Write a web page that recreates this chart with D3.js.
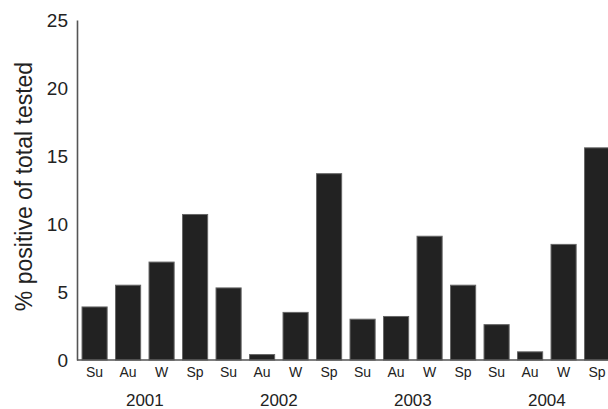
<!DOCTYPE html>
<html>
<head>
<meta charset="utf-8">
<script src="https://cdn.jsdelivr.net/npm/d3@7"></script>
<style>
  html, body { margin: 0; padding: 0; background: #fff; }
  svg { display: block; }
  text { font-family: "Liberation Sans", Arial, sans-serif; fill: #222; }
</style>
</head>
<body>
<svg id="chart" width="608" height="409"></svg>
<script>
const seasons = ["Su", "Au", "W", "Sp", "Su", "Au", "W", "Sp", "Su", "Au", "W", "Sp", "Su", "Au", "W", "Sp"];
const years = ["2001", "2002", "2003", "2004"];
const values = [3.9, 5.5, 7.2, 10.7, 5.3, 0.4, 3.5, 13.7, 3.0, 3.2, 9.1, 5.5, 2.6, 0.6, 8.5, 15.6];
const yTicks = [0, 5, 10, 15, 20, 25];
const yTitle = "% positive of total tested";

const svg = d3.select("#chart");
const axisX = 77, baseY = 360, topY = 20;
const step = 33.5;

const x = d3.scaleBand()
  .domain(d3.range(values.length))
  .range([axisX, axisX + step * (values.length - 0.25 + 0.3)])
  .paddingInner(0.25)
  .paddingOuter(0.15);

const y = d3.scaleLinear().domain([0, 25]).range([baseY, topY]);

// bars
svg.append("g").selectAll("rect")
  .data(values)
  .join("rect")
  .attr("x", (d, i) => x(i))
  .attr("y", d => y(d))
  .attr("width", x.bandwidth())
  .attr("height", d => baseY - y(d))
  .attr("fill", "#222")
  .attr("stroke", "#666")
  .attr("stroke-width", 1);

// y axis
const yAxis = d3.axisLeft(y).tickValues(yTicks).tickSize(0).tickPadding(9).tickFormat(d3.format("d"));
const gy = svg.append("g").attr("transform", `translate(${axisX},0)`).call(yAxis);
gy.select(".domain").attr("stroke", "#555").attr("stroke-width", 1.6);
gy.selectAll("text").attr("font-size", 19).attr("fill", "#222")
  .attr("font-family", "Liberation Sans, Arial, sans-serif");

// x axis
const xAxis = d3.axisBottom(x).tickSize(0).tickPadding(7).tickFormat(i => seasons[i]);
const gx = svg.append("g").attr("transform", `translate(0,${baseY})`).call(xAxis);
gx.select(".domain").attr("stroke", "#555").attr("stroke-width", 1.6)
  .attr("d", `M${axisX},0H608`);
gx.selectAll("text").attr("font-size", 14).attr("fill", "#222")
  .attr("font-family", "Liberation Sans, Arial, sans-serif");

// year labels
svg.append("g").selectAll("text")
  .data(years)
  .join("text")
  .attr("x", (d, i) => (x(i * 4 + 1) + x(i * 4 + 2) + x.bandwidth()) / 2)
  .attr("y", 406)
  .attr("text-anchor", "middle")
  .attr("font-size", 17)
  .text(d => d);

// y title
svg.append("text")
  .attr("transform", `translate(32,${(60 + 313) / 2}) rotate(-90)`)
  .attr("text-anchor", "middle")
  .attr("font-size", 23)
  .attr("fill", "#2a2a2a")
  .text(yTitle);
</script>
</body>
</html>
